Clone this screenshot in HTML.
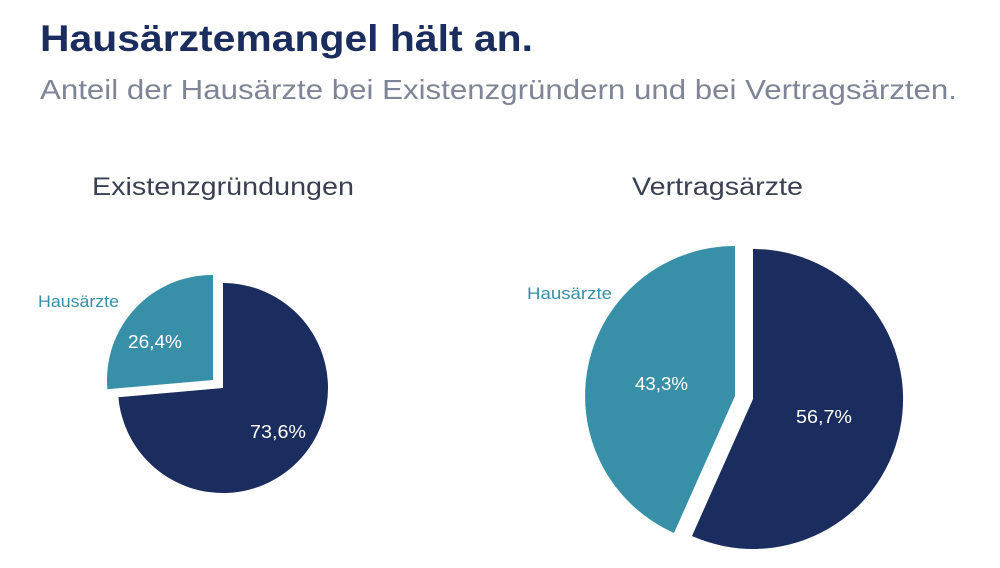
<!DOCTYPE html>
<html><head><meta charset="utf-8"><style>
body{margin:0;width:1000px;height:563px;background:#fff;overflow:hidden;font-family:"Liberation Sans",sans-serif}
</style></head><body>
<svg width="1000" height="563" xmlns="http://www.w3.org/2000/svg" font-family="Liberation Sans, sans-serif">
<text x="40" y="51" font-size="37" font-weight="bold" fill="#1b2d5e" textLength="493" lengthAdjust="spacingAndGlyphs">Hausärztemangel hält an.</text>
<text x="40" y="99" font-size="28" fill="#7f8497" textLength="917" lengthAdjust="spacingAndGlyphs">Anteil der Hausärzte bei Existenzgründern und bei Vertragsärzten.</text>
<text x="92" y="195" font-size="25" fill="#3a3f52" textLength="262" lengthAdjust="spacingAndGlyphs">Existenzgründungen</text>
<text x="632" y="195" font-size="25" fill="#3a3f52" textLength="171" lengthAdjust="spacingAndGlyphs">Vertragsärzte</text>
<path d="M223,388 L223,283 A105,105 0 1 1 118.4,397.2 Z" fill="#1b2d5e"/>
<path d="M213,380 L107.4,389.2 A105,105 0 0 1 213,275 Z" fill="#3890a8"/>
<text x="38" y="307" font-size="17" fill="#3890a8" textLength="81" lengthAdjust="spacingAndGlyphs">Hausärzte</text>
<text x="128" y="348" font-size="18" fill="#fff" textLength="54" lengthAdjust="spacingAndGlyphs">26,4%</text>
<text x="250" y="438" font-size="18" fill="#fff" textLength="56" lengthAdjust="spacingAndGlyphs">73,6%</text>
<path d="M753,399 L753,249 A150,150 0 1 1 692,536 Z" fill="#1b2d5e"/>
<path d="M735,396 L674,533 A150,150 0 0 1 735,246 Z" fill="#3890a8"/>
<text x="527" y="299" font-size="17" fill="#3890a8" textLength="85" lengthAdjust="spacingAndGlyphs">Hausärzte</text>
<text x="635" y="390" font-size="18" fill="#fff" textLength="53" lengthAdjust="spacingAndGlyphs">43,3%</text>
<text x="796" y="423" font-size="18" fill="#fff" textLength="56" lengthAdjust="spacingAndGlyphs">56,7%</text>
</svg>
</body></html>
